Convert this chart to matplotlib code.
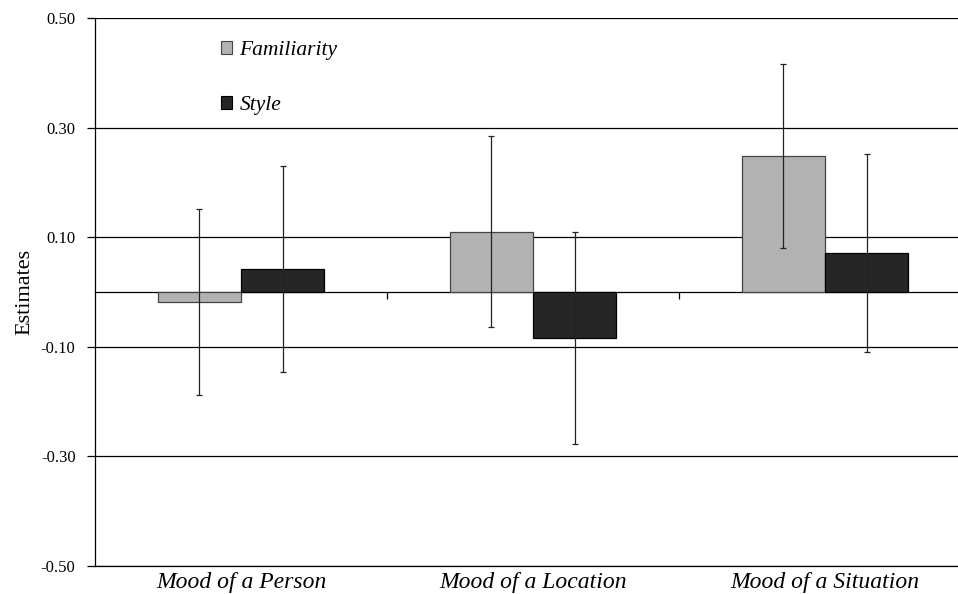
import matplotlib.pyplot as plt
from matplotlib.patches import Patch
import numpy as np

plt.rcParams['font.family'] = ['Liberation Serif', 'DejaVu Serif']

categories = ['Mood of a Person', 'Mood of a Location', 'Mood of a Situation']
familiarity = [-0.018, 0.110, 0.248]
familiarity_err = [0.170, 0.174, 0.168]
style = [0.042, -0.084, 0.071]
style_err = [0.188, 0.194, 0.181]
yticks = [-0.50, -0.30, -0.10, 0.10, 0.30, 0.50]

fam_color = '#b2b2b2'
style_color = '#262626'

fig = plt.figure(figsize=(9.58, 5.94), dpi=100)
ax = fig.add_axes([0.0992, 0.0471, 0.9145, 0.9226])

x = np.arange(len(categories)) + 0.5
w = 0.285
ax.set_axisbelow(True)
ax.yaxis.grid(True, color='black', lw=0.9)
ax.bar(x - w / 2, familiarity, w, color=fam_color, edgecolor='#444444', lw=0.9, zorder=2)
ax.bar(x + w / 2, style, w, color=style_color, edgecolor='black', lw=0.9, zorder=2)
ax.errorbar(x - w / 2, familiarity, yerr=familiarity_err, fmt='none', ecolor='#222222',
            elinewidth=0.9, capsize=2, capthick=0.9, zorder=3)
ax.errorbar(x + w / 2, style, yerr=style_err, fmt='none', ecolor='#222222',
            elinewidth=0.9, capsize=2, capthick=0.9, zorder=3)

ax.set_xlim(0, 3)
ax.set_ylim(-0.5, 0.5)
ax.set_yticks(yticks)
ax.set_yticklabels([f'{v:.2f}' for v in yticks], fontsize=12)
ax.tick_params(axis='y', direction='out', length=6, width=0.9, pad=8)
ax.set_xticks(x)
ax.set_xticklabels(categories, fontsize=17, style='italic')
ax.tick_params(axis='x', length=0, pad=4)
ax.set_ylabel('Estimates', fontsize=16, labelpad=5)

for s in ['top', 'right']:
    ax.spines[s].set_visible(False)
for s in ['left', 'bottom']:
    ax.spines[s].set_linewidth(0.9)

# zero line with small category-boundary ticks
zax = ax.secondary_xaxis(0.5)
zax.set_xticks([1, 2])
zax.set_xticklabels([])
zax.tick_params(direction='in', length=5, width=0.9)
for s in zax.spines.values():
    s.set_linewidth(0.9)

handles = [Patch(facecolor=fam_color, edgecolor='#444444', lw=0.8),
           Patch(facecolor=style_color, edgecolor='black', lw=0.8)]
ax.legend(handles, ['Familiarity', 'Style'], loc='upper left', bbox_to_anchor=(0.122, 0.993),
          frameon=False, prop={'style': 'italic', 'size': 15.5}, handlelength=0.5,
          handleheight=0.5, handletextpad=0.35, labelspacing=1.67)

fig.savefig('out.png', dpi=100)
